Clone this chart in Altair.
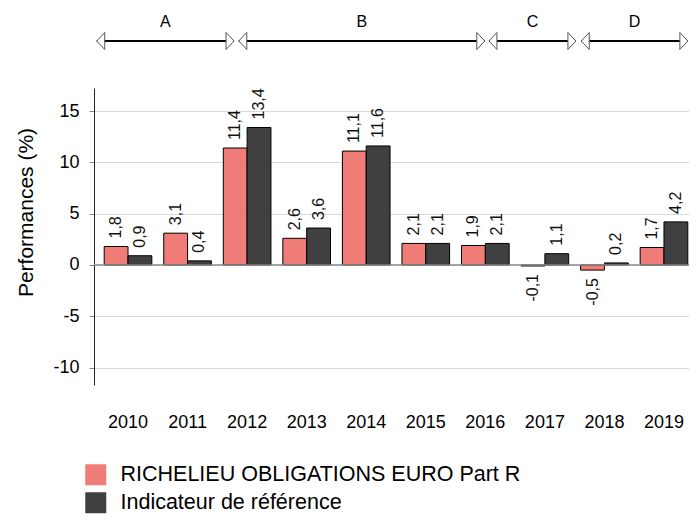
import altair as alt
import pandas as pd

# ---- data ----
years = ["2010", "2011", "2012", "2013", "2014", "2015", "2016", "2017", "2018", "2019"]
fund_name = "RICHELIEU OBLIGATIONS EURO Part R"
bench_name = "Indicateur de référence"
fund = [1.8, 3.1, 11.4, 2.6, 11.1, 2.1, 1.9, -0.1, -0.5, 1.7]
bench = [0.9, 0.4, 13.4, 3.6, 11.6, 2.1, 2.1, 1.1, 0.2, 4.2]
y_ticks = [-10, -5, 0, 5, 10, 15]

period_labels = ["A", "B", "C", "D"]
period_start = [2009.475, 2011.86, 2016.06, 2017.61]
period_end = [2011.78, 2015.99, 2017.52, 2019.40]

FONT = "Liberation Sans"
PINK = "#F07C77"
DARK = "#404040"

rows = []
for yr, f, b in zip(years, fund, bench):
    rows.append({"year": yr, "series": fund_name, "value": f})
    rows.append({"year": yr, "series": bench_name, "value": b})
df = pd.DataFrame(rows)
df["label"] = df["value"].map(lambda v: f"{v:.1f}".replace(".", ","))

periods = pd.DataFrame({"label": period_labels, "start": period_start, "end": period_end})
periods["mid"] = (periods["start"] + periods["end"]) / 2

series_order = [fund_name, bench_name]
x_scale = alt.Scale(paddingInner=0.2, paddingOuter=0.0957, align=0.895)
y_scale = alt.Scale(domain=[-11.7, 17.25], nice=False, zero=False)

x_axis = alt.Axis(title=None, labelAngle=0, ticks=False, domain=False, grid=False,
                  labelPadding=28, labelFontSize=18, labelFont=FONT, labelColor="#000")
y_axis = alt.Axis(values=y_ticks, title="Performances (%)", grid=True, gridColor="#d9d9d9",
                  domainColor="#222", tickColor="#888", tickSize=5, labelPadding=10,
                  labelExpr="datum.value + ''",
                  labelFontSize=18, labelFont=FONT, labelColor="#000",
                  titleFont=FONT, titleFontSize=21, titleFontWeight="normal", titleColor="#000",
                  titleAngle=270, titleX=-62, titleY=124, titleAlign="center",
                  titleBaseline="alphabetic")

X = alt.X("year:N", sort=years, scale=x_scale, axis=x_axis)
XO = alt.XOffset("series:N", sort=series_order)
Y = alt.Y("value:Q", scale=y_scale, axis=y_axis)

base = alt.Chart(df)

bars = base.mark_bar(stroke="black", strokeWidth=1).encode(
    x=X, xOffset=XO, y=Y,
    color=alt.Color("series:N", sort=series_order,
                    scale=alt.Scale(domain=series_order, range=[PINK, DARK]),
                    legend=alt.Legend(orient="none", legendX=-9, legendY=376, title=None,
                                      symbolType="square", symbolSize=441, symbolStrokeWidth=0,
                                      labelFontSize=21.5, labelFont=FONT, labelColor="#000",
                                      labelLimit=0, rowPadding=5, labelOffset=14, padding=0)),
)

zero = alt.Chart(pd.DataFrame({"value": [0]})).mark_rule(color="#888", strokeWidth=1.5).encode(
    y=Y
)

pos_text = base.transform_filter("datum.value >= 0").mark_text(
    angle=270, align="left", baseline="middle", dx=8, fontSize=16, font=FONT, color="#111"
).encode(x=X, xOffset=XO, y=Y, text="label:N")

neg_text = base.transform_filter("datum.value < 0").mark_text(
    angle=270, align="right", baseline="middle", dx=-8, fontSize=16, font=FONT, color="#111"
).encode(x=X, xOffset=XO, y=Y, text="label:N")

main = alt.layer(bars, zero, pos_text, neg_text)

xq = alt.Scale(domain=[2009.429, 2019.419], nice=False, zero=False)
pbase = alt.Chart(periods)
rule = pbase.mark_rule(color="black", strokeWidth=2).encode(
    x=alt.X("start:Q", scale=xq, axis=None), x2="end:Q", y=alt.value(-47)
)
left_tri = pbase.mark_point(shape="M0,0L0.94,-1L0.94,1Z", size=289, filled=True,
                            color="white", stroke="#555", strokeWidth=1, opacity=1).encode(
    x=alt.X("start:Q", scale=xq, axis=None), y=alt.value(-47)
)
right_tri = pbase.mark_point(shape="M0,0L-0.94,-1L-0.94,1Z", size=289, filled=True,
                             color="white", stroke="#555", strokeWidth=1, opacity=1).encode(
    x=alt.X("end:Q", scale=xq, axis=None), y=alt.value(-47)
)
plabels = pbase.mark_text(fontSize=16, font=FONT, color="#000", baseline="middle").encode(
    x=alt.X("mid:Q", scale=xq, axis=None), y=alt.value(-66), text="label:N"
)
arrows = alt.layer(rule, left_tri, right_tri, plabels)

chart = alt.layer(main, arrows).resolve_scale(x="independent").properties(
    width=595, height=297,
    background="white",
    autosize=alt.AutoSizeParams(type="none"),
    padding={"left": 86, "top": 80, "right": 0, "bottom": 130},
).configure_view(stroke=None)

chart.save("out.html", embed_options={"renderer": "svg", "actions": False})
